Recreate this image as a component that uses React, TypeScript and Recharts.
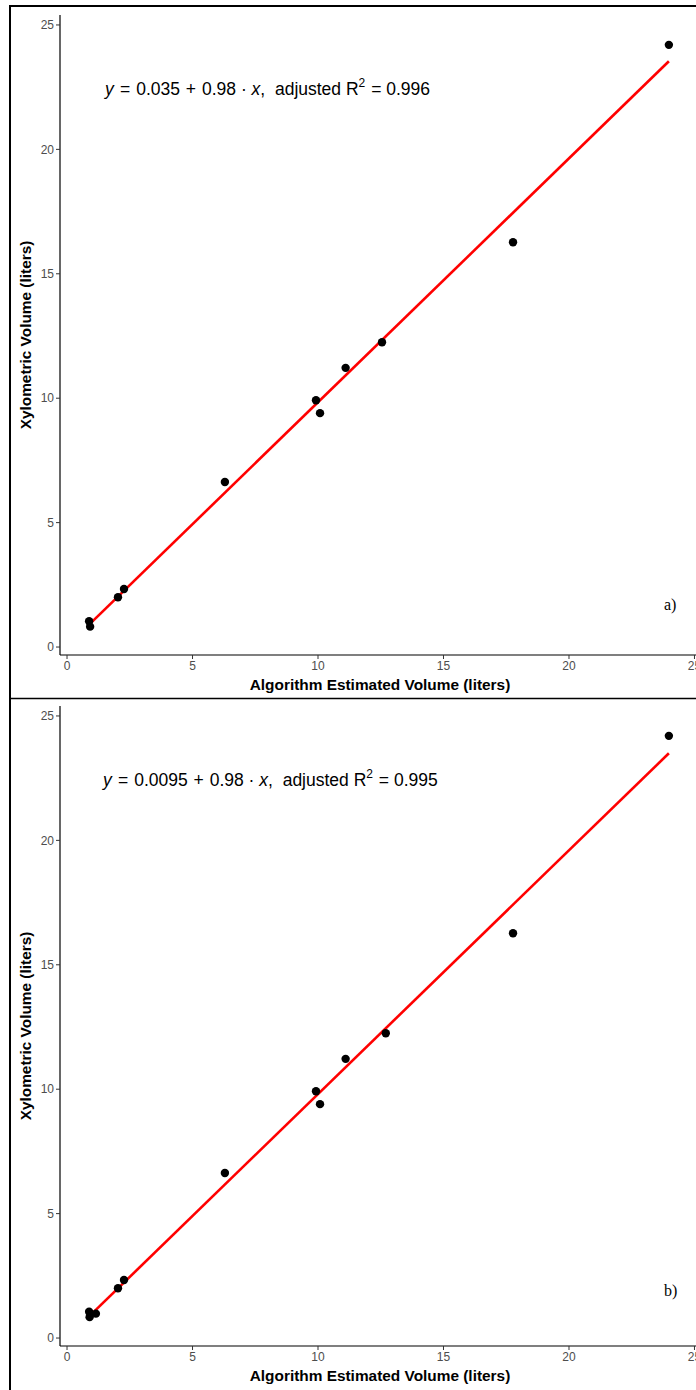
import React from "react";
import { ComposedChart, Scatter, Line, XAxis, YAxis } from "recharts";

// Panel a) observations
const xA = [0.88, 0.92, 2.03, 2.27, 6.29, 9.92, 10.08, 11.1, 12.55, 17.77, 23.98];
const yA = [1.04, 0.82, 2.0, 2.33, 6.63, 9.92, 9.4, 11.22, 12.25, 16.27, 24.2];
// Panel b) observations
const xB = [0.88, 0.9, 1.15, 2.03, 2.27, 6.29, 9.92, 10.08, 11.1, 12.7, 17.77, 23.98];
const yB = [1.06, 0.84, 0.98, 2.0, 2.33, 6.63, 9.92, 9.4, 11.22, 12.25, 16.27, 24.2];
// fitted line end points
const fitXA = [0.88, 23.98];
const fitYA = [0.9, 23.54];
const fitXB = [0.88, 23.98];
const fitYB = [0.87, 23.5];

const ticks = [0, 5, 10, 15, 20, 25];

const toRows = (xs: number[], ys: number[]) => xs.map((x, i) => ({ x, y: ys[i] }));

const FONT = "'Liberation Sans', Arial, sans-serif";

const Dot = (props: any) => (
  <circle cx={props.cx} cy={props.cy} r={4.2} fill="#000" />
);

function Panel({ pts, fit }: { pts: { x: number; y: number }[]; fit: { x: number; y: number }[] }) {
  return (
    <ComposedChart
      width={720}
      height={698}
      margin={{ top: 15, right: 20, bottom: 13, left: 20 }}
    >
      <XAxis
        dataKey="x"
        type="number"
        domain={[-0.28, 25.22]}
        ticks={ticks}
        allowDataOverflow
        height={30}
        tickSize={4}
        tickMargin={2}
        axisLine={{ stroke: "#000", strokeWidth: 1.2 }}
        tickLine={{ stroke: "#333" }}
        tick={{ fill: "#4d4d4d", fontSize: 12, fontFamily: FONT }}
      />
      <YAxis
        dataKey="y"
        type="number"
        domain={[-0.32, 25.4]}
        ticks={ticks}
        allowDataOverflow
        width={40}
        tickSize={4}
        tickMargin={2}
        axisLine={{ stroke: "#000", strokeWidth: 1.2 }}
        tickLine={{ stroke: "#333" }}
        tick={{ fill: "#4d4d4d", fontSize: 12, fontFamily: FONT }}
      />
      <Line
        data={fit}
        dataKey="y"
        type="linear"
        stroke="#ff0000"
        strokeWidth={2.6}
        dot={false}
        activeDot={false}
        isAnimationActive={false}
      />
      <Scatter data={pts} dataKey="y" shape={Dot} isAnimationActive={false} />
    </ComposedChart>
  );
}

function Equation({ x, y, intercept, r2 }: { x: number; y: number; intercept: string; r2: string }) {
  return (
    <text x={x} y={y} fontFamily={FONT} fontSize={17.5} fill="#000" style={{ whiteSpace: "pre" }}>
      <tspan fontStyle="italic">y</tspan>
      <tspan dx={1.5}>{" = "}</tspan>
      <tspan dx={1}>{intercept}</tspan>
      <tspan dx={1}>{" + "}</tspan>
      <tspan dx={1}>{"0.98 · "}</tspan>
      <tspan fontStyle="italic">x</tspan>
      <tspan>{",  adjusted R"}</tspan>
      <tspan fontSize={12} dy={-8}>2</tspan>
      <tspan dy={8} dx={1}>{" = " + r2}</tspan>
    </text>
  );
}

export default function App() {
  const titleStyle: React.CSSProperties = {
    position: "absolute",
    fontFamily: FONT,
    fontWeight: "bold",
    fontSize: 15.4,
    color: "#000",
    whiteSpace: "nowrap",
  };
  return (
    <div
      style={{
        position: "absolute",
        left: 0,
        top: 0,
        width: 696,
        height: 1390,
        overflow: "hidden",
        background: "#fff",
      }}
    >
      <div style={{ position: "absolute", left: 0, top: 0 }}>
        <Panel pts={toRows(xA, yA)} fit={toRows(fitXA, fitYA)} />
      </div>
      <div style={{ position: "absolute", left: 0, top: 691 }}>
        <Panel pts={toRows(xB, yB)} fit={toRows(fitXB, fitYB)} />
      </div>

      {/* axis titles */}
      <div style={{ ...titleStyle, left: 380, top: 685, transform: "translate(-50%,-50%)" }}>
        Algorithm Estimated Volume (liters)
      </div>
      <div style={{ ...titleStyle, left: 380, top: 1376, transform: "translate(-50%,-50%)" }}>
        Algorithm Estimated Volume (liters)
      </div>
      <div style={{ ...titleStyle, left: 26, top: 335, transform: "translate(-50%,-50%) rotate(-90deg)" }}>
        Xylometric Volume (liters)
      </div>
      <div style={{ ...titleStyle, left: 26, top: 1026, transform: "translate(-50%,-50%) rotate(-90deg)" }}>
        Xylometric Volume (liters)
      </div>

      <svg
        width={696}
        height={1390}
        style={{ position: "absolute", left: 0, top: 0, pointerEvents: "none" }}
      >
        <Equation x={105} y={95} intercept="0.035" r2="0.996" />
        <Equation x={103} y={786} intercept="0.0095" r2="0.995" />
        <text x={664} y={610} fontFamily="'Liberation Serif', 'Times New Roman', serif" fontSize={16} fill="#000">
          a)
        </text>
        <text x={664} y={1296} fontFamily="'Liberation Serif', 'Times New Roman', serif" fontSize={16} fill="#000">
          b)
        </text>
        {/* frame */}
        <line x1={10} y1={6} x2={10} y2={1390} stroke="#000" strokeWidth={2} />
        <line x1={9} y1={6} x2={696} y2={6} stroke="#000" strokeWidth={2} />
        <line x1={10} y1={698.5} x2={696} y2={698.5} stroke="#000" strokeWidth={1.5} />
      </svg>
    </div>
  );
}
